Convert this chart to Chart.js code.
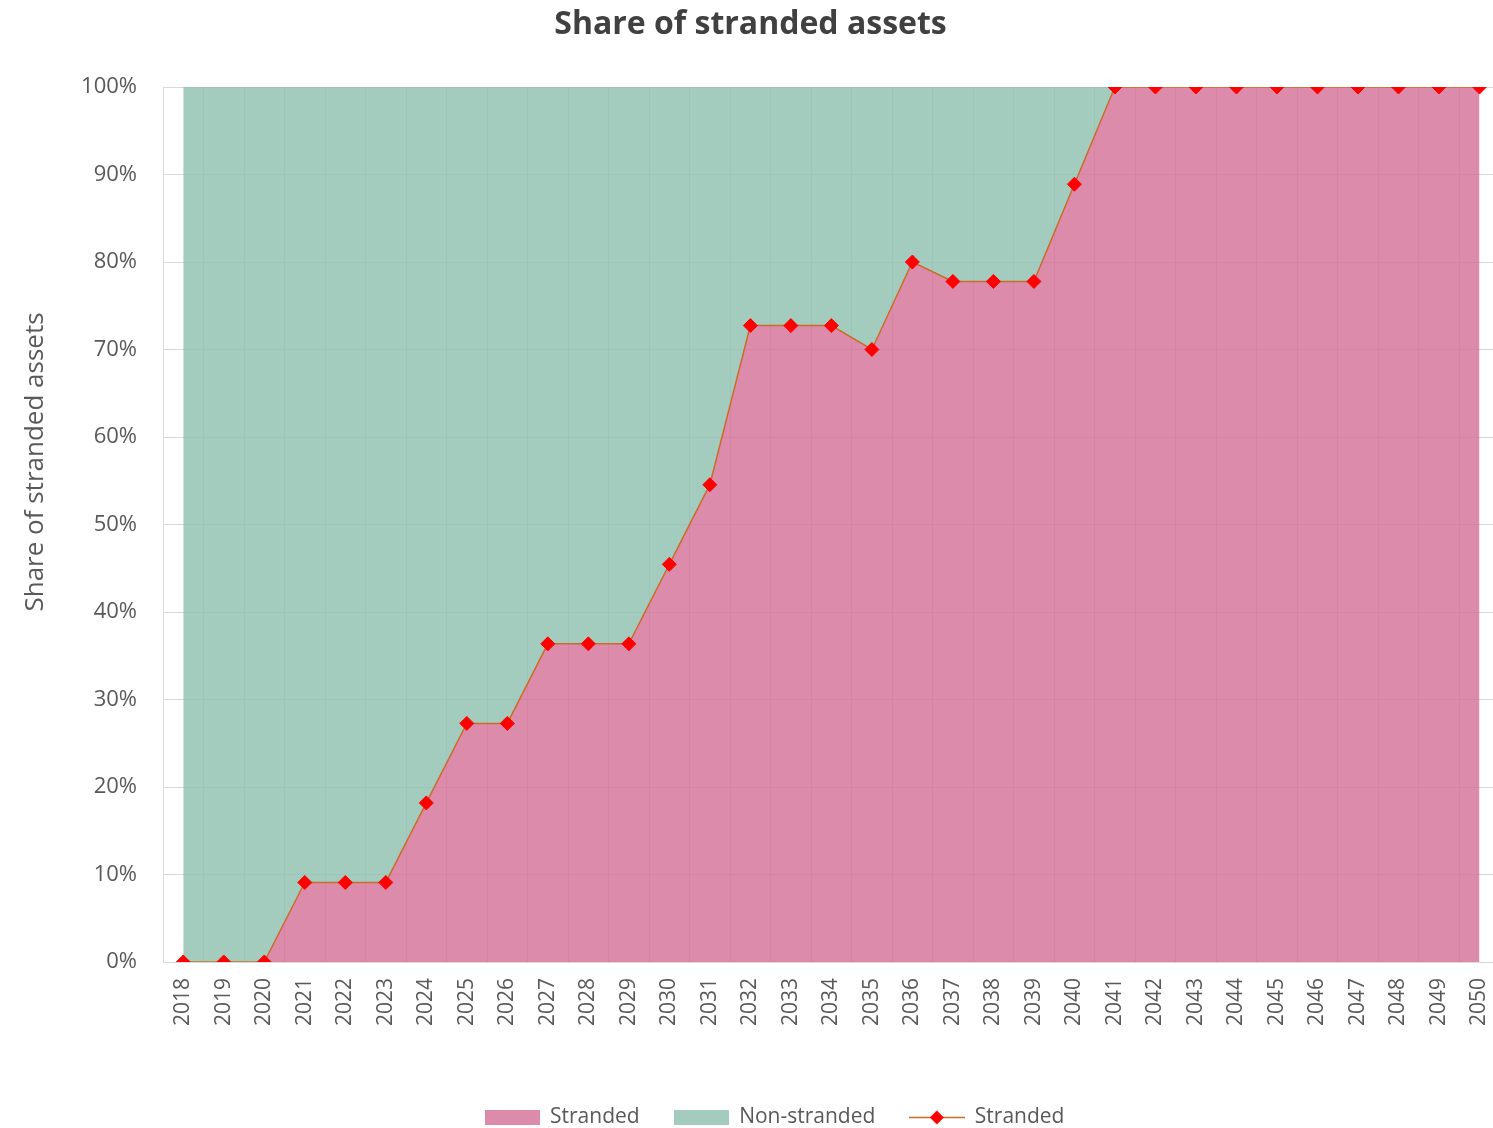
<!DOCTYPE html>
<html>
<head>
<meta charset="utf-8">
<script src="https://cdn.jsdelivr.net/npm/chart.js@4/dist/chart.umd.min.js"></script>
<style>
  html, body { margin: 0; padding: 0; background: #ffffff; overflow: hidden; }
  #wrap { width: 1493px; height: 1128px; position: relative; overflow: hidden; }
  #c { position: absolute; left: 0; top: 0; }
</style>
</head>
<body>
<div id="wrap"><canvas id="c" width="1521" height="1142"></canvas></div>
<script>
const years = ['2018','2019','2020','2021','2022','2023','2024','2025','2026','2027','2028','2029','2030','2031','2032','2033','2034','2035','2036','2037','2038','2039','2040','2041','2042','2043','2044','2045','2046','2047','2048','2049','2050'];
const stranded = [0,0,0,9.09,9.09,9.09,18.18,27.27,27.27,36.36,36.36,36.36,45.45,54.55,72.73,72.73,72.73,70,80,77.78,77.78,77.78,88.89,100,100,100,100,100,100,100,100,100,100];
const nonStranded = [100,100,100,90.91,90.91,90.91,81.82,72.73,72.73,63.64,63.64,63.64,54.55,45.45,27.27,27.27,27.27,30,20,22.22,22.22,22.22,11.11,0,0,0,0,0,0,0,0,0,0];
const yTicks = [0,10,20,30,40,50,60,70,80,90,100];
const yTitle = 'Share of stranded assets';

const FONT = "'Open Sans', 'Noto Sans', sans-serif";
const PINK = 'rgba(213,110,150,0.8)';
const GREEN = 'rgba(140,190,174,0.8)';
const LINE = '#CC6B28';
const MARK = '#FF0000';

function boxImg(color) {
  const c = document.createElement('canvas');
  c.width = 55; c.height = 15;
  const x = c.getContext('2d');
  x.fillStyle = color; x.fillRect(0, 0, 55, 15);
  return c;
}
function lineImg() {
  const c = document.createElement('canvas');
  c.width = 56; c.height = 15;
  const x = c.getContext('2d');
  x.strokeStyle = LINE; x.lineWidth = 1.5;
  x.beginPath(); x.moveTo(0, 7.5); x.lineTo(56, 7.5); x.stroke();
  x.fillStyle = MARK;
  x.beginPath(); x.moveTo(28, 0.5); x.lineTo(35, 7.5); x.lineTo(28, 14.5); x.lineTo(21, 7.5); x.closePath(); x.fill();
  return c;
}

const yTitlePlugin = {
  id: 'yTitle',
  afterLayout(chart) {
    if (chart.legend) { chart.legend.left += 24; chart.legend.right += 24; }
  },
  afterDraw(chart) {
    const ctx = chart.ctx;
    ctx.save();
    ctx.translate(36, 462);
    ctx.rotate(-Math.PI / 2);
    ctx.font = "26px " + FONT;
    ctx.fillStyle = '#595959';
    ctx.textAlign = 'center';
    ctx.textBaseline = 'middle';
    ctx.fillText(yTitle, 0, 0);
    ctx.restore();
  }
};

new Chart(document.getElementById('c'), {
  type: 'line',
  data: {
    labels: years,
    datasets: [
      { label: 'Stranded', data: stranded, stack: 'area', order: 1, fill: 'origin',
        backgroundColor: PINK, borderWidth: 0, pointRadius: 0, tension: 0 },
      { label: 'Non-stranded', data: nonStranded, stack: 'area', order: 2, fill: '-1',
        backgroundColor: GREEN, borderWidth: 0, pointRadius: 0, tension: 0 },
      { label: 'Stranded', data: stranded, stack: 'line', order: 0, fill: false,
        borderColor: LINE, borderWidth: 1.5, pointStyle: 'rectRot', pointRadius: 7,
        pointBackgroundColor: MARK, pointBorderColor: MARK, pointBorderWidth: 1, tension: 0 }
    ]
  },
  plugins: [yTitlePlugin],
  options: {
    responsive: false,
    animation: false,
    layout: { padding: { left: 0, right: 20, top: 0, bottom: 4 } },
    plugins: {
      title: {
        display: true, text: 'Share of stranded assets', color: '#404040',
        font: { family: FONT, size: 32, weight: '700', lineHeight: 1.2 },
        padding: { top: 6, bottom: 42.6 }
      },
      legend: {
        position: 'bottom',
        labels: {
          usePointStyle: true, pointStyleWidth: 55, boxHeight: 15,
          color: '#595959', font: { family: FONT, size: 21 }, padding: 34,
          generateLabels: () => [
            { text: 'Stranded', pointStyle: boxImg(PINK), datasetIndex: 0, fontColor: '#595959', lineWidth: 0, strokeStyle: 'transparent', fillStyle: PINK },
            { text: 'Non-stranded', pointStyle: boxImg(GREEN), datasetIndex: 1, fontColor: '#595959', lineWidth: 0, strokeStyle: 'transparent', fillStyle: GREEN },
            { text: 'Stranded', pointStyle: lineImg(), datasetIndex: 2, fontColor: '#595959', lineWidth: 0, strokeStyle: 'transparent', fillStyle: MARK }
          ]
        }
      },
      tooltip: { enabled: false }
    },
    scales: {
      x: {
        offset: true,
        grid: { offset: true, color: '#d9d9d9', drawTicks: false },
        border: { color: '#d9d9d9' },
        ticks: { color: '#595959', font: { family: FONT, size: 21 }, minRotation: 90, maxRotation: 90, padding: 16, autoSkip: false },
        afterFit: (s) => { s.height = 111; }
      },
      y: {
        stacked: true, min: 0, max: 100,
        afterBuildTicks: (s) => { s.ticks = yTicks.map(v => ({ value: v })); },
        grid: { color: '#d9d9d9', drawTicks: false },
        border: { color: '#d9d9d9' },
        ticks: { color: '#595959', font: { family: FONT, size: 22 }, padding: 26, callback: (v) => v + '%' },
        afterFit: (s) => { s.width = 163; }
      }
    }
  }
});
</script>
</body>
</html>
